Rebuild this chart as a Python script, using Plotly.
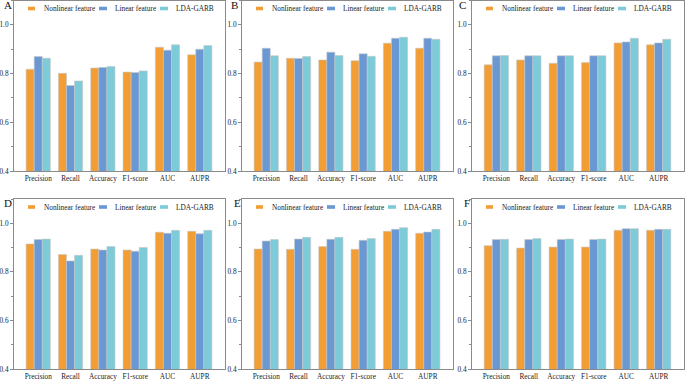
import plotly.graph_objects as go

categories = ["Precision", "Recall", "Accuracy", "F1-score", "AUC", "AUPR"]
series_names = ["Nonlinear feature", "Linear feature", "LDA-GARB"]
panel_letters = ["A", "B", "C", "D", "E", "F"]

# values per panel: nonlinear, linear, LDA-GARB
A_nonlinear = [0.818, 0.801, 0.823, 0.806, 0.908, 0.877]
A_linear = [0.870, 0.751, 0.825, 0.804, 0.896, 0.900]
A_lda = [0.863, 0.770, 0.829, 0.811, 0.918, 0.915]

B_nonlinear = [0.847, 0.863, 0.856, 0.853, 0.925, 0.904]
B_linear = [0.904, 0.862, 0.888, 0.881, 0.945, 0.945]
B_lda = [0.873, 0.870, 0.874, 0.871, 0.949, 0.941]

C_nonlinear = [0.836, 0.856, 0.842, 0.845, 0.926, 0.918]
C_linear = [0.873, 0.873, 0.873, 0.873, 0.930, 0.926]
C_lda = [0.874, 0.873, 0.873, 0.873, 0.945, 0.941]

D_nonlinear = [0.915, 0.871, 0.894, 0.890, 0.963, 0.967]
D_linear = [0.933, 0.845, 0.890, 0.885, 0.959, 0.957]
D_lda = [0.935, 0.868, 0.904, 0.900, 0.971, 0.971]

E_nonlinear = [0.894, 0.893, 0.904, 0.893, 0.967, 0.959]
E_linear = [0.927, 0.935, 0.934, 0.930, 0.975, 0.964]
E_lda = [0.933, 0.942, 0.942, 0.937, 0.982, 0.975]

F_nonlinear = [0.908, 0.898, 0.902, 0.902, 0.971, 0.971]
F_linear = [0.933, 0.933, 0.933, 0.933, 0.978, 0.975]
F_lda = [0.934, 0.937, 0.935, 0.935, 0.978, 0.975]

panels = [
    (A_nonlinear, A_linear, A_lda),
    (B_nonlinear, B_linear, B_lda),
    (C_nonlinear, C_linear, C_lda),
    (D_nonlinear, D_linear, D_lda),
    (E_nonlinear, E_linear, E_lda),
    (F_nonlinear, F_linear, F_lda),
]

colors = ["#F29E34", "#6A98D2", "#7DCAD8"]

W, H = 685, 381
FONT = "Liberation Serif"
FS = 7.3

# panel pixel boxes: (left, right, top, bottom)
col_x = [(14, 225), (242, 453), (472, 684)]
row_y = [(0.5, 171), (199, 369)]
letter_dx = [-12, -13, -15, -12, -10, -10]


def px(x):
    return x / W


def py(y):
    return 1 - y / H


fig = go.Figure()
shapes = []
annotations = []

for i, vals in enumerate(panels):
    r, c = divmod(i, 3)
    xl, xr = col_x[c]
    yt, yb = row_y[r]
    n = "" if i == 0 else str(i + 1)
    xa, ya = "x" + n, "y" + n
    for k in range(3):
        fig.add_trace(go.Bar(
            x=categories, y=vals[k], name=series_names[k],
            marker=dict(color=colors[k], line=dict(color="#C8C8C8", width=0.6)),
            xaxis=xa, yaxis=ya, showlegend=False,
        ))
    axis_common = dict(showline=True, mirror=True, linecolor="#8A8A8A", linewidth=0.9,
                       showgrid=False, zeroline=False, automargin=False,
                       tickfont=dict(family=FONT, size=FS, color="#222"))
    fig.layout["xaxis" + n] = dict(
        domain=[px(xl), px(xr)], anchor=ya, range=[-0.75, 5.78],
        ticks="", **axis_common)
    fig.layout["yaxis" + n] = dict(
        domain=[py(yb), py(yt)], anchor=xa, range=[0.4, 1.1],
        tick0=0.4, dtick=0.2, tickformat=".1f", ticks="outside", ticklen=3,
        tickcolor="#8A8A8A", tickwidth=0.8,
        minor=dict(dtick=0.1, tick0=0.4, ticks="outside", ticklen=2, tickcolor="#8A8A8A", tickwidth=0.8),
        **axis_common)

    # panel letter
    annotations.append(dict(
        text=panel_letters[i], x=px(xl + letter_dx[i]), y=py(yt - 3 if r == 0 else yt - 4),
        xref="paper", yref="paper", xanchor="left", yanchor="top", showarrow=False,
        font=dict(family=FONT, size=11, color="#111")))

    # legend
    sw = [(14, 21), (85, 93), (146, 154)]
    tx = [28, 99, 160]
    cy = yt + 8
    for k in range(3):
        shapes.append(dict(
            type="rect", xref="paper", yref="paper",
            x0=px(xl + sw[k][0]), x1=px(xl + sw[k][1]),
            y0=py(cy + 1.8), y1=py(cy - 1.8),
            fillcolor=colors[k], line=dict(width=0)))
        annotations.append(dict(
            text=series_names[k], x=px(xl + tx[k]), y=py(cy),
            xref="paper", yref="paper", xanchor="left", yanchor="middle",
            showarrow=False, font=dict(family=FONT, size=FS, color="#222")))

fig.update_layout(
    width=W, height=H, margin=dict(l=0, r=0, t=0, b=0),
    paper_bgcolor="white", plot_bgcolor="white",
    barmode="group", bargap=0.25, bargroupgap=0,
    shapes=shapes, annotations=annotations,
    font=dict(family=FONT),
)

fig.write_html(
    "out.html",
    config={"responsive": False, "displayModeBar": False},
    post_script="document.body.style.margin='0';document.body.style.overflow='hidden';",
)
